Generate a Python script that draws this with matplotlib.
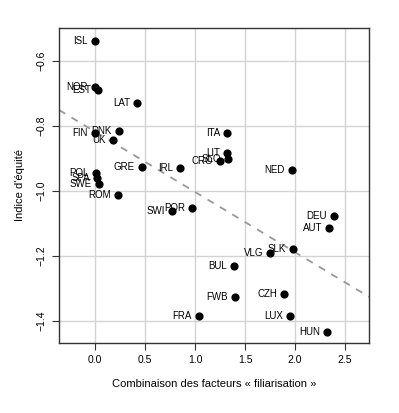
import numpy as np
import matplotlib
matplotlib.use("Agg")
import matplotlib.pyplot as plt

plt.rcParams['font.family'] = ['Liberation Sans', 'DejaVu Sans']

# country codes with the two index values
countries = ['ISL', 'NOR', 'EST', 'LAT', 'DNK', 'FIN', 'UK', 'GRE', 'IRL',
             'POL', 'SPA', 'SWE', 'ROM', 'SWI', 'POR', 'FRA', 'ITA', 'LIT',
             'SLO', 'CRO', 'NED', 'DEU', 'AUT', 'SLK', 'VLG', 'BUL', 'FWB',
             'CZH', 'LUX', 'HUN']
filiarisation = [0.00, 0.00, 0.03, 0.42, 0.24, 0.00, 0.18, 0.47, 0.85,
                 0.01, 0.02, 0.04, 0.23, 0.77, 0.97, 1.04, 1.32, 1.32,
                 1.33, 1.25, 1.97, 2.39, 2.34, 1.98, 1.75, 1.39, 1.40,
                 1.89, 1.95, 2.32]
equite = [-0.538, -0.681, -0.690, -0.730, -0.814, -0.820, -0.842, -0.925, -0.929,
          -0.944, -0.961, -0.978, -1.013, -1.062, -1.052, -1.385, -0.822, -0.883,
          -0.900, -0.909, -0.934, -1.078, -1.113, -1.178, -1.190, -1.232, -1.328,
          -1.319, -1.384, -1.435]

xticks = [0.0, 0.5, 1.0, 1.5, 2.0, 2.5]
yticks = [-1.4, -1.2, -1.0, -0.8, -0.6]

x = np.array(filiarisation)
y = np.array(equite)

fig = plt.figure(figsize=(3.99, 4.13), dpi=100)
ax = fig.add_axes([0.148, 0.170, 0.777, 0.762])

ax.set_xlim(-0.36, 2.74)
ax.set_ylim(-1.468, -0.498)
ax.set_xticks(xticks)
ax.set_yticks(yticks)
ax.set_xticklabels(['%.1f' % t for t in xticks])
ax.set_yticklabels(['\u2212%.1f' % abs(t) for t in yticks], rotation=90, va='center')
ax.grid(True, color='#d3d3d3', linewidth=1.0)
ax.set_axisbelow(True)

# linear fit (dashed grey)
slope, intercept = np.polyfit(x, y, 1)
xl = np.array(ax.get_xlim())
ax.plot(xl, intercept + slope * xl, color='#999999', linestyle=(0, (4, 4)),
        linewidth=1.3, zorder=2)

ax.scatter(x, y, s=24, color='black', zorder=3)
for name, xi, yi in zip(countries, x, y):
    ax.annotate(name, (xi, yi), xytext=(-5, 0), textcoords='offset points',
                ha='right', va='center', fontsize=7, zorder=4)

for sp in ax.spines.values():
    sp.set_color('#333333')
    sp.set_linewidth(1.0)
ax.tick_params(direction='out', length=5, width=0.8, labelsize=7.5, color='#333333',
               pad=4)

ax.set_xlabel('Combinaison des facteurs \u00ab filiarisation \u00bb', fontsize=8, labelpad=10)
ax.set_ylabel("Indice d'\u00e9quit\u00e9", fontsize=8, labelpad=8)

fig.savefig('out.png', dpi=100)
